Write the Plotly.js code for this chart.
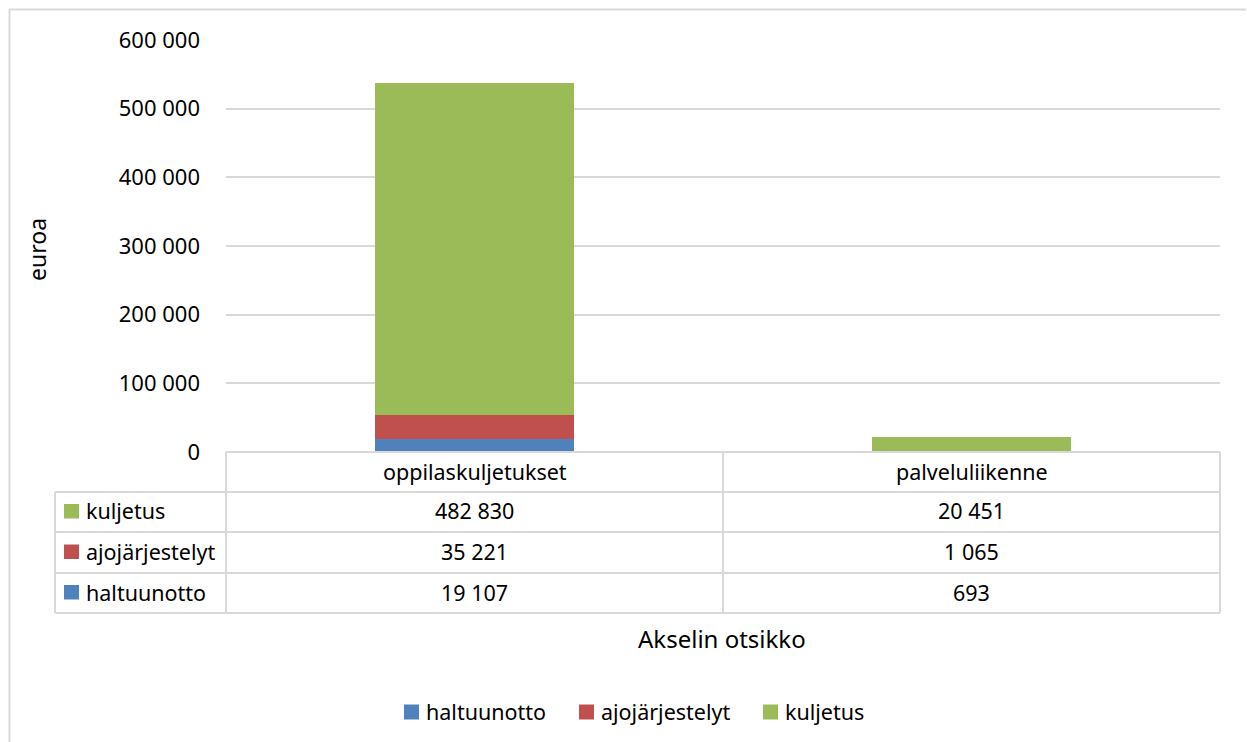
<!DOCTYPE html>
<html><head><meta charset="utf-8">
<script src="https://cdn.plot.ly/plotly-3.0.1.min.js"></script>
<style>html,body{margin:0;padding:0;background:#fff}#chart{width:1247px;height:742px}</style>
</head><body><div id="chart"></div>
<script>
const categories = ["oppilaskuljetukset", "palveluliikenne"];
const seriesNames = ["haltuunotto", "ajojärjestelyt", "kuljetus"];
const haltuunotto = [19107, 693];
const ajojarjestelyt = [35221, 1065];
const kuljetus = [482830, 20451];
const seriesColors = ["#4F81BD", "#C0504D", "#9BBB59"];
const yTitle = "euroa";
const xTitle = "Akselin otsikko";

const W = 1247, H = 742;
const FONT = "Noto Sans, sans-serif";
const FS = 21.5;
const px = x => x / W;
const py = y => 1 - y / H;
const fmt = n => n.toString().replace(/\B(?=(\d{3})+(?!\d))/g, ' ');

const values = [haltuunotto, ajojarjestelyt, kuljetus];
const traces = seriesNames.map((name, i) => ({
  type: 'bar', name: name, x: categories, y: values[i],
  marker: {color: seriesColors[i]}, hoverinfo: 'skip', showlegend: false
}));

// geometry of plot area / table (pixels)
const L = 226, R = 1220, T = 40, B = 452;
const legL = 55;
const rowY = [452, 492, 532, 573, 613];
const colX = [L, (L + R) / 2, R];
const gridCol = "#d9d9d9";

const shapes = [];
const line = (x0, y0, x1, y1) => shapes.push({type: 'line', xref: 'paper', yref: 'paper',
  x0: px(x0), y0: py(y0), x1: px(x1), y1: py(y1), line: {color: gridCol, width: 2}});
// outer chart border
line(9, 9.5, 1246, 9.5);
line(9.5, 9, 9.5, 742);
// table horizontals
line(L, rowY[0], R, rowY[0]);
for (let k = 1; k < rowY.length; k++) line(legL, rowY[k], R, rowY[k]);
// table verticals
colX.forEach(x => line(x, rowY[0], x, rowY[4]));
line(legL, rowY[1], legL, rowY[4]);

const annotations = [];
const txt = (x, y, text, size, anchor, extra) => annotations.push(Object.assign({xref: 'paper', yref: 'paper',
  x: px(x), y: py(y), text: text, showarrow: false, xanchor: anchor, yanchor: 'middle',
  font: {family: FONT, size: size, color: '#000'}}, extra || {}));
// header row: categories
categories.forEach((c, j) => txt((colX[j] + colX[j + 1]) / 2, (rowY[0] + rowY[1]) / 2 - 1, c, FS, 'center'));
// data rows: top row is last series
for (let r = 0; r < 3; r++) {
  const si = 2 - r;
  const yc = (rowY[r + 1] + rowY[r + 2]) / 2;
  shapes.push({type: 'rect', xref: 'paper', yref: 'paper', x0: px(64), x1: px(79),
    y0: py(yc + 6.5), y1: py(yc - 8), fillcolor: seriesColors[si], line: {width: 0}});
  txt(84, yc - 1, seriesNames[si], FS, 'left');
  categories.forEach((c, j) => txt((colX[j] + colX[j + 1]) / 2, yc - 1, fmt(values[si][j]), FS, 'center'));
}
// axis titles
txt(37, 250, yTitle, 23, 'center', {textangle: -90});
txt(722, 638, xTitle, 24, 'center');
// legend (custom, Excel style)
const legX = [404, 579, 763];
const legY = 712;
seriesNames.forEach((n, i) => {
  shapes.push({type: 'rect', xref: 'paper', yref: 'paper', x0: px(legX[i]), x1: px(legX[i] + 15),
    y0: py(legY + 7.5), y1: py(legY - 7.5), fillcolor: seriesColors[i], line: {width: 0}});
  txt(legX[i] + 20, legY - 1, n, 21.5, 'left');
});

const layout = {
  width: W, height: H,
  margin: {l: 0, r: 0, t: 0, b: 0},
  paper_bgcolor: '#fff', plot_bgcolor: '#fff',
  separators: ". ",
  barmode: 'stack', bargap: 0.6,
  font: {family: FONT, size: FS, color: '#000'},
  xaxis: {domain: [px(L), px(R)], showticklabels: false, ticks: '', showgrid: false,
    zeroline: false, showline: false, fixedrange: true},
  yaxis: {domain: [py(B), py(T)], range: [0, 600000], dtick: 100000, tickformat: ',d',
    showgrid: true, gridcolor: gridCol, gridwidth: 2, zeroline: false, showline: false,
    ticks: '', ticklabelstandoff: 25, tickfont: {family: FONT, size: 22, color: '#000'}},
  showlegend: false,
  shapes: shapes, annotations: annotations
};
Plotly.newPlot('chart', traces, layout, {displayModeBar: false, staticPlot: true});
</script></body></html>
